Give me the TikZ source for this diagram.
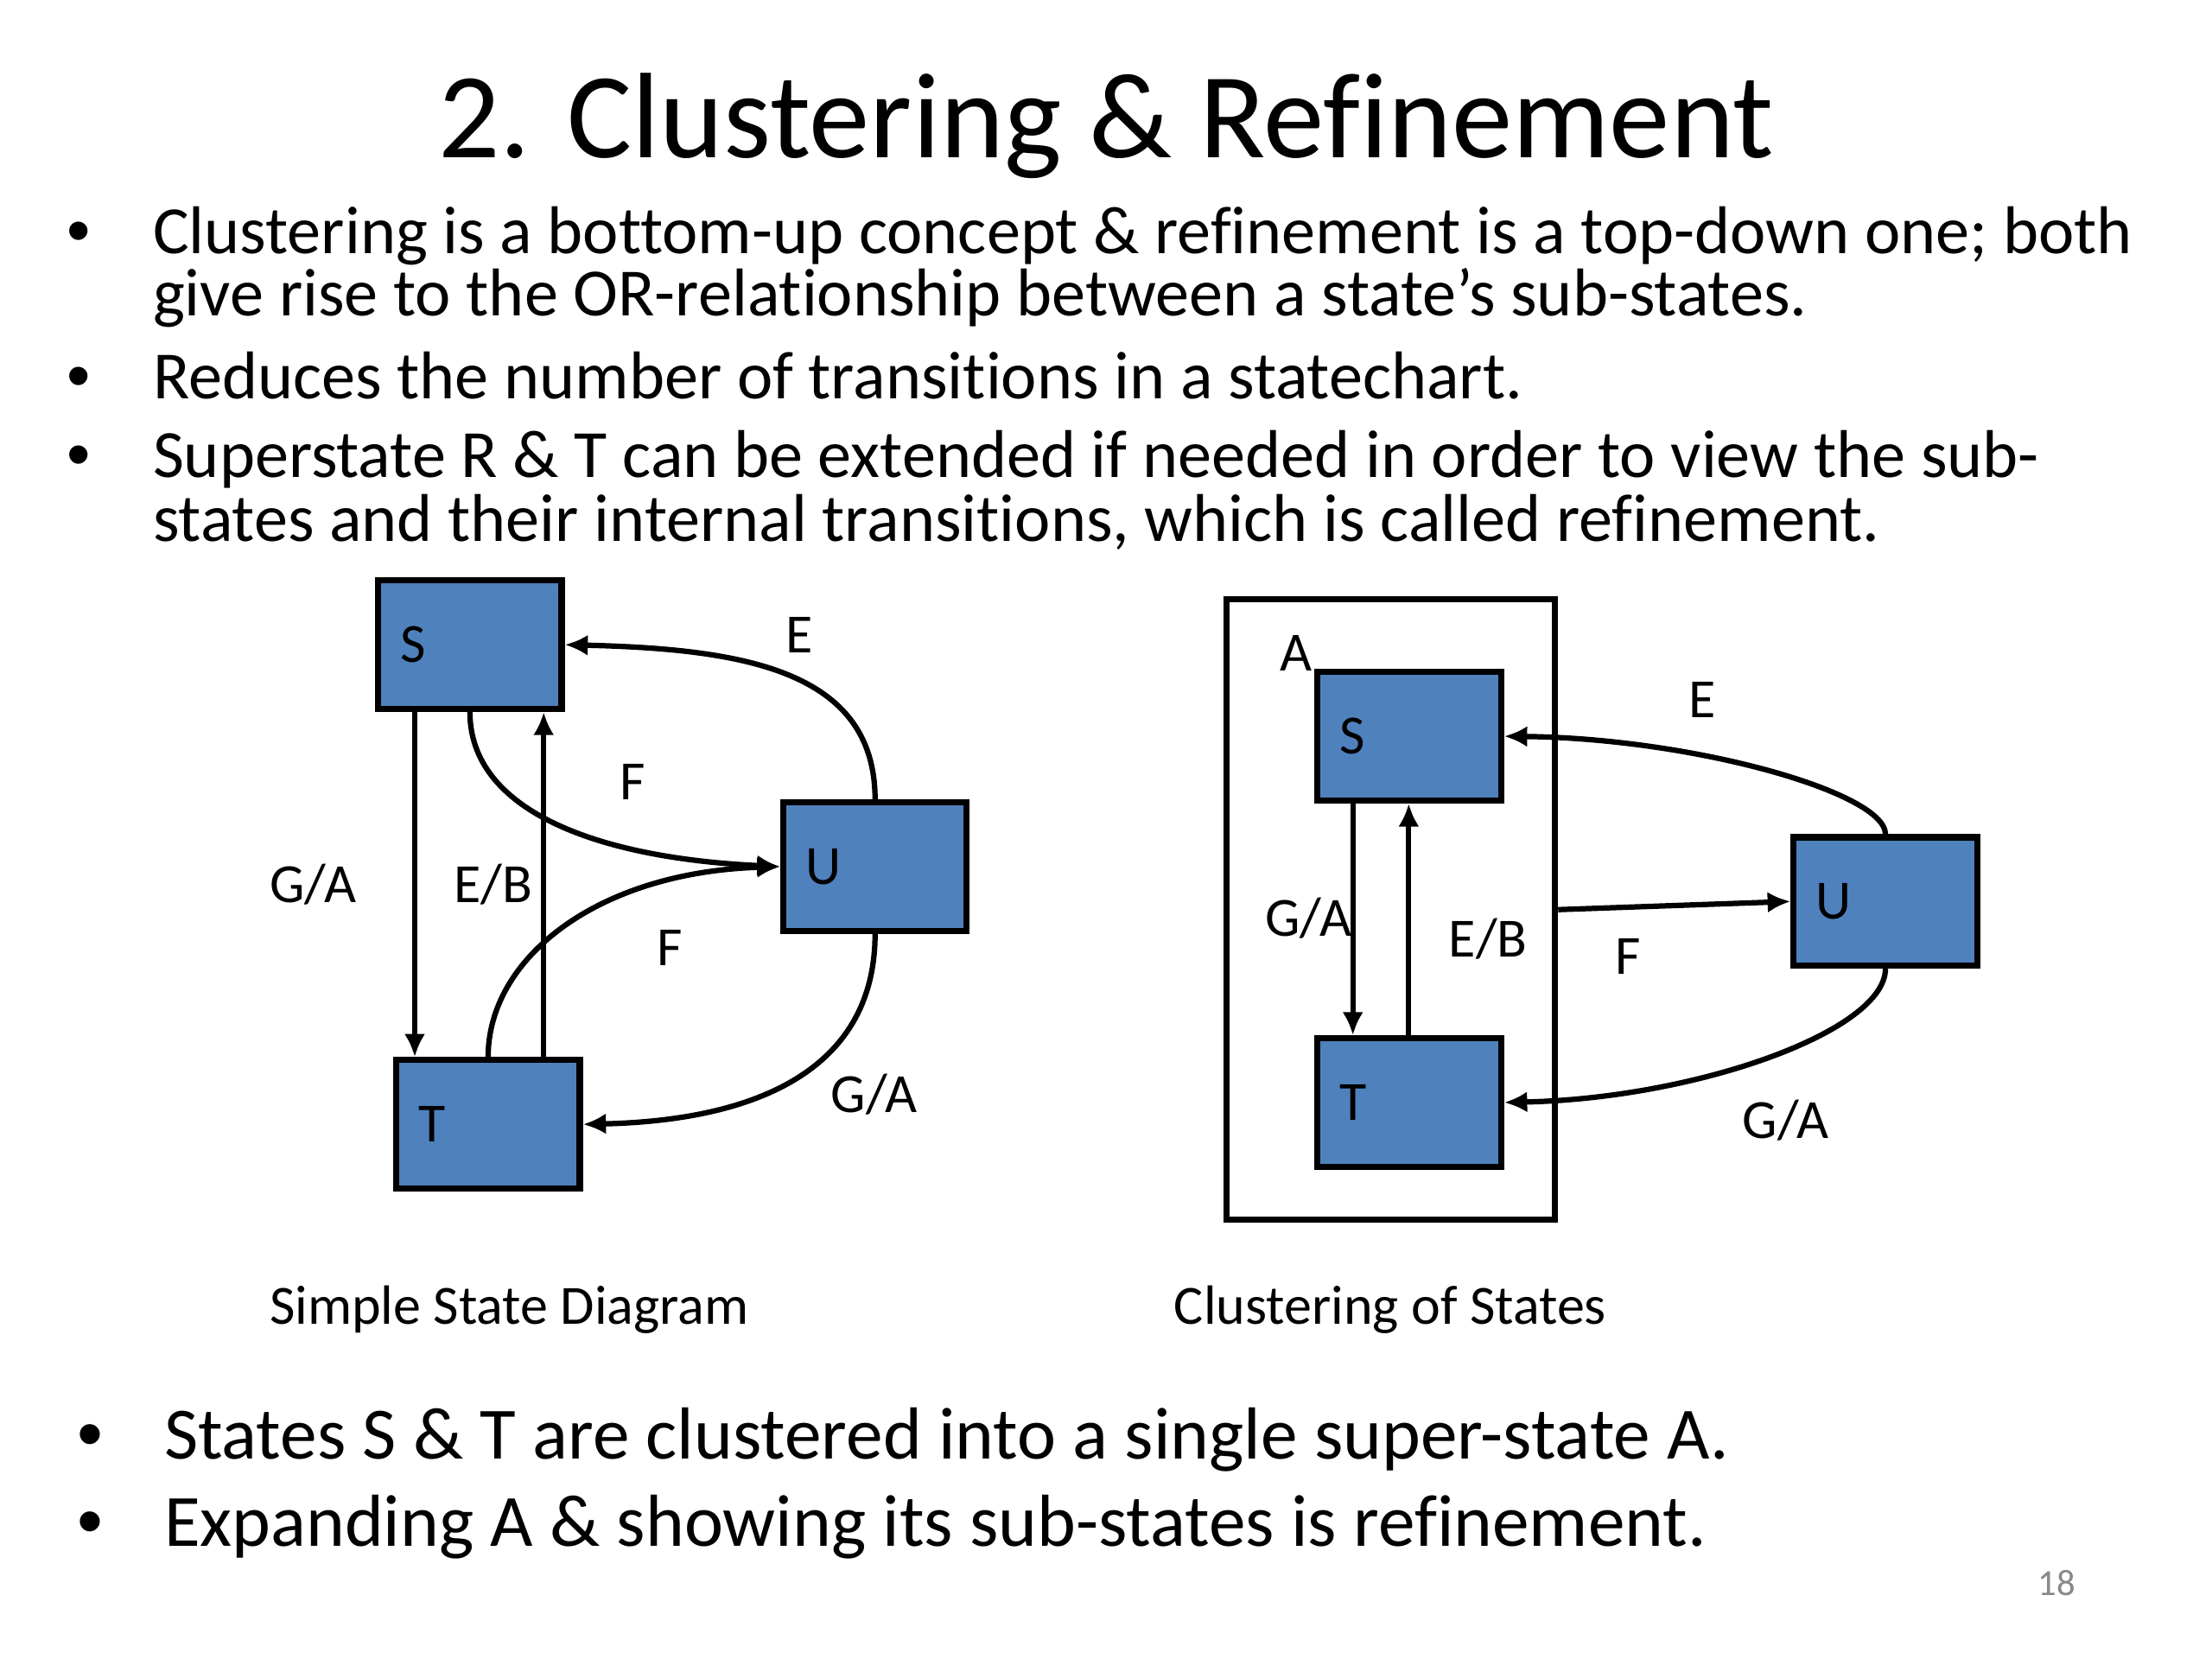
\documentclass[tikz,border=0pt]{standalone}
\usepackage{fontspec}
\setmainfont{Carlito}[Ligatures=CommonOff]
\newfontfamily\bulletfont{Liberation Sans}
\usetikzlibrary{arrows.meta}
\definecolor{boxblue}{RGB}{79,129,189}
\definecolor{pgnum}{RGB}{137,137,137}
\begin{document}
\begin{tikzpicture}[x=0.45918pt,y=-0.45918pt,
  state/.style={draw=black, line width=2pt, fill=boxblue, minimum width=59.7pt, minimum height=41.8pt,
    text width=45.3pt, inner xsep=7.2pt, inner ysep=0pt, align=left, font=\fontsize{18}{20}\selectfont},
  superbox/.style={draw=black, line width=2pt, fill=white, minimum width=107pt, minimum height=201.9pt, inner sep=0pt},
  tr/.style={line width=1.75pt, -{Latex[length=7.5pt,width=6.8pt]}},
  lbl/.style={font=\fontsize{18}{20}\selectfont, inner sep=0pt, anchor=base},
  body/.style={font=\fontsize{22}{26}\selectfont, inner sep=0pt, anchor=base west},
  bodybig/.style={font=\fontsize{24}{28}\selectfont, inner sep=0pt, anchor=base west},
  bul/.style={inner sep=0pt, anchor=base, font=\bulletfont\fontsize{22}{26}\selectfont},
  bulbig/.style={inner sep=0pt, anchor=base, font=\bulletfont\fontsize{24}{28}\selectfont}]
\useasboundingbox[fill=white] (0,0) rectangle (1568,1176);
% title
\node[font=\fontsize{39.6}{46}\selectfont, inner sep=0pt, anchor=base] (title) at (784,111.5) {2. Clustering \& Refinement};
% top bullets
\node[bul] (b1) at (56,180) {•};
\node[body] (l1) at (108,180) {Clustering is a bottom-up concept \& refinement is a top-down one; both};
\node[body] (l2) at (108,224) {give rise to the OR-relationship between a state’s sub-states.};
\node[bul] (b2) at (56,282.4) {•};
\node[body] (l3) at (108,282.4) {Reduces the number of transitions in a statechart.};
\node[bul] (b3) at (56,338.7) {•};
\node[body] (l4) at (108,338.7) {Superstate R \& T can be extended if needed in order to view the sub-};
\node[body] (l5) at (108,384) {states and their internal transitions, which is called refinement.};
% left diagram
\node[state] (S) at (333.1,457) {S};
\node[state] (T) at (346,797) {T};
\node[state] (U) at (620.3,614.3) {U};
\coordinate (gaL) at (294,0);
\coordinate (ebL) at (385.4,0);
\draw[tr] (S.south -| gaL) -- (T.north -| gaL);
\draw[tr] (T.north -| ebL) -- (S.south -| ebL);
\draw[tr] (S.south) .. controls +(0,70) and +(-130,-6) .. (U.west);
\draw[tr] (T.north) .. controls +(0,-70) and +(-130,4) .. (U.west);
\draw[tr] (U.north) .. controls +(0,-92) and +(125,3) .. (S.east);
\draw[tr] (U.south) .. controls +(0,92) and +(130,-3) .. (T.east);
\node[lbl] (eL) at (566.9,462.9) {E};
\node[lbl] (f1L) at (448.7,566.9) {F};
\node[lbl] (gaLl) at (222,639.9) {G/A};
\node[lbl] (ebLl) at (349.8,639.9) {E/B};
\node[lbl] (f2L) at (475,684.5) {F};
\node[lbl] (ga2L) at (619.6,788.4) {G/A};
\node[lbl] (capL) at (361,938.5) {Simple State Diagram};
% right diagram
\node[superbox] (A) at (985.8,644.8) {};
\node[state] (S2) at (999,521.9) {S};
\node[state] (T2) at (999,781.5) {T};
\node[state] (U2) at (1336.5,639) {U};
\coordinate (gaR) at (959,0);
\coordinate (ebR) at (998.6,0);
\draw[tr] (S2.south -| gaR) -- (T2.north -| gaR);
\draw[tr] (T2.north -| ebR) -- (S2.south -| ebR);
\draw[tr] (A.east) -- (U2.west);
\draw[tr] (U2.north) .. controls +(0,-29.5) and +(134,1.5) .. (S2.east);
\draw[tr] (U2.south) .. controls +(0,44) and +(137,-3) .. (T2.east);
\node[lbl] (aR) at (919,475.5) {A};
\node[lbl] (eR) at (1206.4,508.5) {E};
\node[lbl] (gaRl) at (927.5,663.9) {G/A};
\node[lbl] (ebRl) at (1054.9,678.2) {E/B};
\node[lbl] (fR) at (1154,690.3) {F};
\node[lbl] (ga2R) at (1265.8,806.8) {G/A};
\node[lbl] (capR) at (985.5,938.5) {Clustering of States};
% bottom bullets
\node[bulbig] (b4) at (64,1034) {•};
\node[bodybig] (l6) at (116,1034) {States S \& T are clustered into a single super-state A.};
\node[bulbig] (b5) at (64,1096) {•};
\node[bodybig] (l7) at (116,1096) {Expanding A \& showing its sub-states is refinement.};
\node[font=\fontsize{12}{14}\selectfont, text=pgnum, inner sep=0pt, anchor=base] (pg) at (1458,1131) {18};
\end{tikzpicture}
\end{document}
